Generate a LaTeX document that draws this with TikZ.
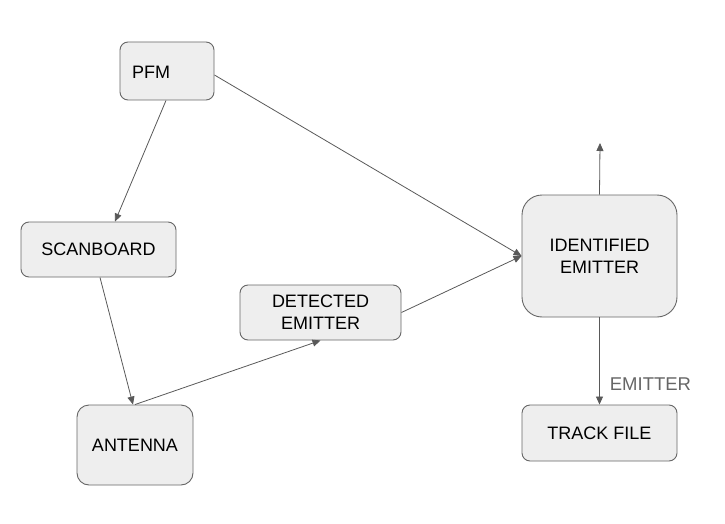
\documentclass[tikz,border=0pt]{standalone}
\usepackage{fontspec}
\setmainfont{Liberation Sans}
\usetikzlibrary{arrows.meta}
\definecolor{boxfill}{HTML}{EEEEEE}
\definecolor{boxline}{HTML}{666666}
\definecolor{arrowc}{HTML}{595959}
\begin{document}
\begin{tikzpicture}[x=1pt,y=-1pt,
  box/.style={draw=boxline,fill=boxfill,line width=0.9pt,rounded corners=8pt,inner sep=0pt,align=center,font=\fontsize{18}{22}\selectfont},
  conn/.style={draw=arrowc,line width=0.8pt,-{Triangle[length=8pt,width=7pt]}}]
\useasboundingbox (0,0) rectangle (725,524);
\node[box,minimum width=94pt,minimum height=58pt] (pfm) at (167,71) {};
\node[font=\fontsize{18}{22}\selectfont,anchor=west,inner sep=0pt] (pfmt) at (132,72) {PFM};
\node[box,minimum width=155pt,minimum height=55pt] (scan) at (98.5,249.5) {SCANBOARD};
\node[box,minimum width=116pt,minimum height=80pt,rounded corners=12pt] (ant) at (135,445) {ANTENNA};
\node[box,minimum width=161pt,minimum height=55pt] (det) at (320.5,312.5) {DETECTED\\EMITTER};
\node[box,minimum width=155pt,minimum height=122pt,rounded corners=20pt] (ide) at (599.5,256) {IDENTIFIED\\EMITTER};
\node[box,minimum width=155pt,minimum height=56pt] (trk) at (599.5,433) {TRACK FILE};
\coordinate (up) at (600,143);
\draw[conn] (pfm.south) ++(-1,0) coordinate (a1) (a1) -- (scan.north -| 115,0);
\draw[conn] (scan.south) ++(1.5,0) coordinate (a2) (a2) -- (ant.north -| 133,0);
\draw[conn] (ant.north) -- (det.south);
\draw[conn] (det.east) -- (ide.west);
\draw[conn] (pfm.east) ++(0,4) coordinate (a3) (a3) -- (ide.west);
\draw[conn] (ide.north) -- (up);
\draw[conn] (ide.south) -- node[pos=0.77,right,text=boxline,font=\fontsize{18.5}{22}\selectfont,inner sep=0pt,xshift=10pt] (lbl) {EMITTER} (trk.north);
\end{tikzpicture}
\end{document}
